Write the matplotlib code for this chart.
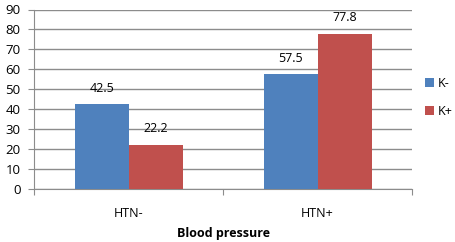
import numpy as np
import matplotlib
matplotlib.use("Agg")
import matplotlib.pyplot as plt

categories = ["HTN-", "HTN+"]
k_minus = [42.5, 57.5]
k_plus = [22.2, 77.8]
series_names = ["K-", "K+"]
yticks = [0, 10, 20, 30, 40, 50, 60, 70, 80, 90]

plt.rcParams['font.family'] = ['Open Sans', 'DejaVu Sans']

fig = plt.figure(figsize=(4.56, 2.42), dpi=100)
ax = fig.add_axes([34.5 / 456, 1 - 189 / 242, (412 - 34.5) / 456, (189 - 9.5) / 242])

x = np.arange(len(categories))
w = 0.286
b1 = ax.bar(x - w / 2, k_minus, w, color="#4F81BD", label=series_names[0], zorder=3)
b2 = ax.bar(x + w / 2, k_plus, w, color="#C0504D", label=series_names[1], zorder=3)

for bars, vals in ((b1, k_minus), (b2, k_plus)):
    for rect, v in zip(bars, vals):
        ax.annotate(f"{v}", (rect.get_x() + rect.get_width() / 2, v),
                    xytext=(0, 7), textcoords="offset points",
                    ha="center", va="bottom", fontsize=9, color="black")

ax.set_xlim(-0.5, len(categories) - 0.5)
ax.set_ylim(0, 90)
ax.set_yticks(yticks)
ax.yaxis.grid(True, color="#8c8c8c", linewidth=1.0, zorder=0)
ax.set_axisbelow(True)

# category ticks at boundaries, labels centered
ax.set_xticks(np.arange(-0.5, len(categories), 1.0))
ax.set_xticklabels([])
ax.set_xticks(x, minor=True)
ax.set_xticklabels(categories, minor=True, fontsize=9)
ax.tick_params(axis="x", which="minor", length=0, pad=13)
ax.tick_params(axis="x", which="major", length=4, color="#8c8c8c")
ax.tick_params(axis="y", length=4, color="#8c8c8c", labelsize=9.5, pad=6)

for s in ["top", "right"]:
    ax.spines[s].set_visible(False)
ax.spines["left"].set_color("#8c8c8c")
ax.spines["bottom"].set_color("#8c8c8c")

ax.set_xlabel("Blood pressure", fontsize=9, fontweight="bold", labelpad=5)

ax.legend(loc="center left", bbox_to_anchor=(1.022, 0.51), frameon=False,
          fontsize=9, handlelength=0.7, handleheight=0.7, handletextpad=0.3,
          labelspacing=1.2, borderaxespad=0)

fig.savefig("out.png", dpi=100)
